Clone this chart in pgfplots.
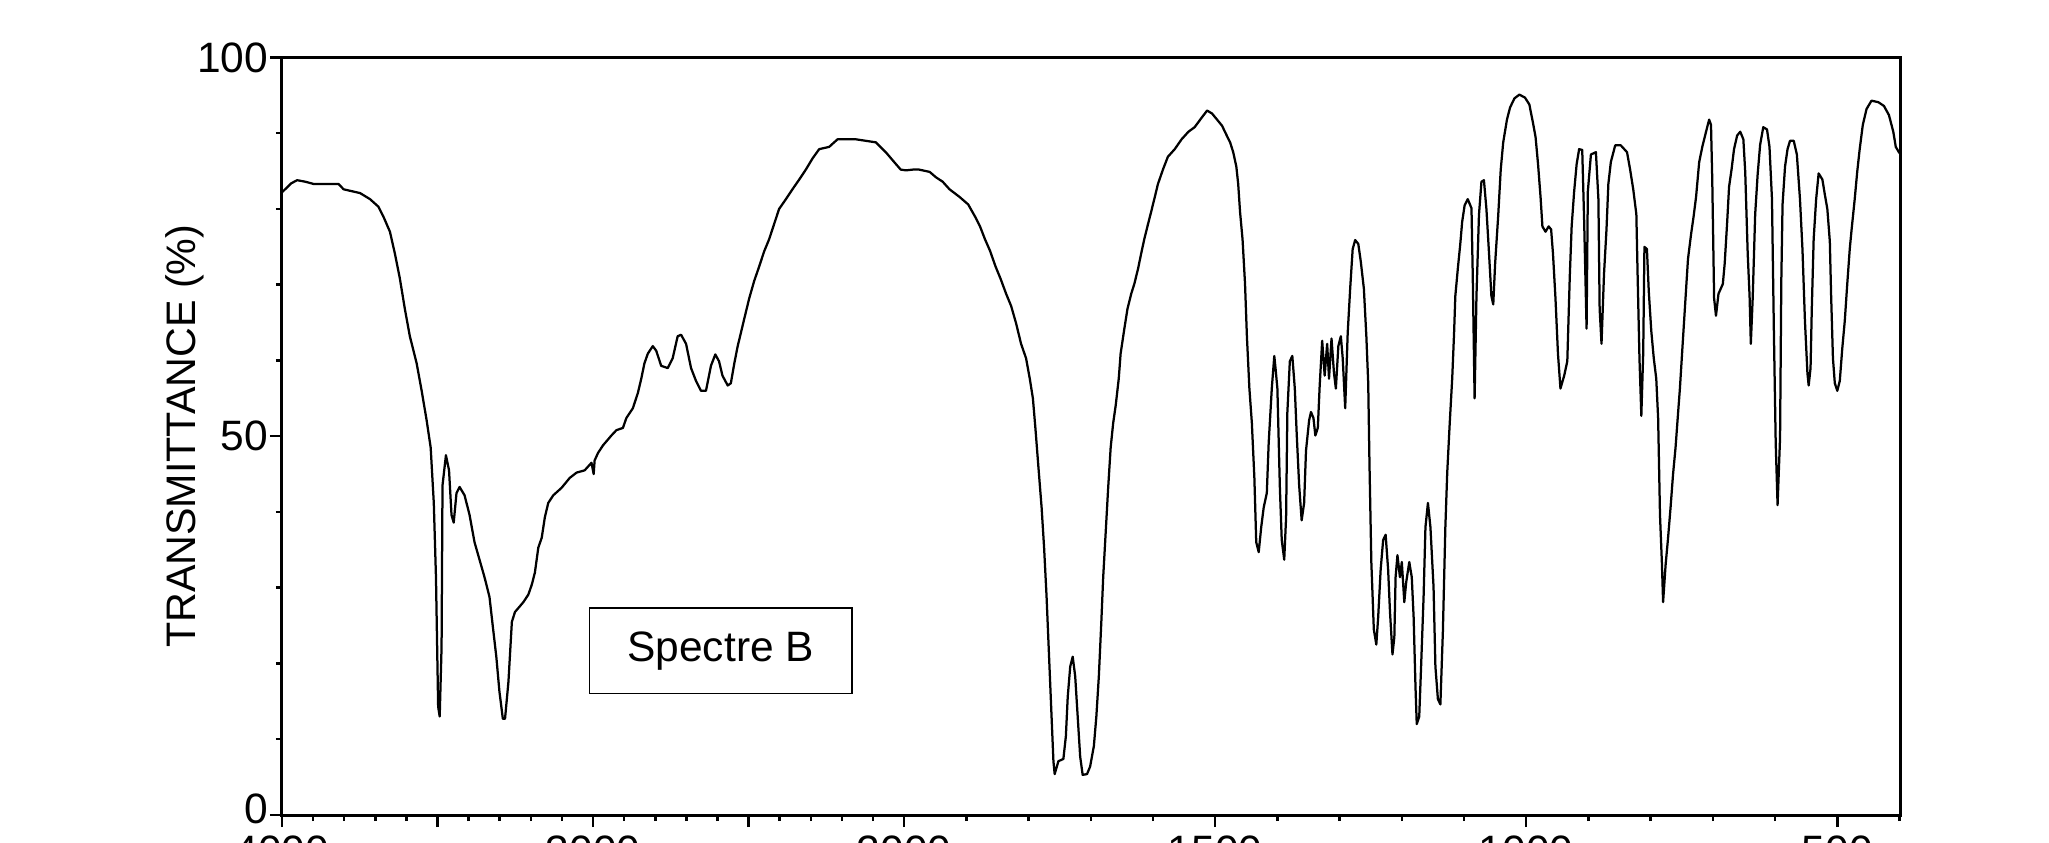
\documentclass[border=0pt]{standalone}
\usepackage{pgfplots}
\pgfplotsset{compat=1.18}
\usepackage{pgfplotstable}
\usepackage{fontspec}
\setmainfont{Liberation Sans}

\pgfplotstableread{
wn T
4000 82.2
3990 82.6
3970 83.4
3951 83.8
3925 83.6
3898 83.3
3818 83.3
3802 82.6
3749 82.1
3717 81.3
3690 80.3
3674 79.0
3653 77.0
3637 74.1
3621 70.8
3605 66.8
3589 63.2
3567 59.6
3551 56.0
3535 52.1
3522 48.5
3512 41.2
3505 31.4
3498 14.3
3493 13.0
3487 22.2
3484 43.5
3473 47.5
3463 45.5
3455 39.6
3448 38.6
3439 42.5
3429 43.3
3413 42.2
3397 39.6
3381 36.0
3365 33.7
3349 31.4
3333 28.8
3322 24.8
3311 20.9
3301 16.3
3290 12.7
3283 12.7
3272 17.6
3261 25.5
3251 26.8
3224 28.1
3208 29.1
3197 30.4
3187 32.0
3176 35.3
3165 36.6
3155 39.3
3144 41.2
3128 42.2
3101 43.2
3075 44.5
3053 45.2
3027 45.5
3005 46.5
2998 45.0
2995 46.8
2984 47.8
2968 48.8
2941 50.1
2925 50.8
2904 51.1
2893 52.4
2872 53.7
2856 55.7
2845 57.6
2835 59.6
2824 60.9
2808 61.9
2797 61.3
2781 59.3
2760 59.0
2744 60.3
2728 63.2
2717 63.4
2701 62.2
2685 59.0
2669 57.3
2653 56.0
2637 56.0
2621 59.3
2607 60.8
2595 59.9
2584 58.0
2567 56.7
2557 57.0
2546 59.6
2535 61.9
2525 63.6
2514 65.5
2498 68.2
2482 70.5
2466 72.4
2450 74.4
2434 76.0
2418 78.0
2402 80.0
2380 81.3
2359 82.6
2337 83.9
2316 85.2
2294 86.7
2273 87.9
2241 88.2
2214 89.2
2187 89.2
2155 89.2
2123 89.0
2091 88.8
2059 87.5
2032 86.2
2011 85.2
1997 85.1
1986 85.2
1976 85.2
1959 84.9
1949 84.2
1938 83.6
1927 82.6
1911 81.6
1897 80.6
1886 79.0
1878 77.7
1870 76.0
1862 74.5
1853 72.4
1845 70.8
1836 68.8
1828 67.2
1820 64.9
1812 62.2
1804 60.3
1798 57.6
1793 55.0
1789 51.1
1784 45.8
1779 40.6
1775 35.3
1771 28.8
1767 20.9
1763 13.0
1760 7.1
1758 5.4
1752 7.1
1744 7.4
1740 10.4
1737 15.6
1733 19.6
1729 20.9
1725 18.3
1721 13.0
1717 7.7
1713 5.3
1706 5.4
1701 6.4
1695 9.1
1691 13.0
1687 18.3
1683 25.5
1680 31.4
1676 37.3
1672 43.2
1668 48.5
1664 51.7
1660 54.0
1655 57.6
1652 60.9
1646 64.2
1641 66.8
1635 68.8
1630 70.1
1624 72.1
1619 74.1
1614 76.0
1608 78.0
1603 79.6
1597 81.6
1592 83.3
1584 85.2
1576 86.9
1565 87.9
1554 89.2
1543 90.2
1533 90.8
1524 91.8
1513 93.0
1505 92.6
1497 91.8
1489 91.0
1482 89.8
1476 88.8
1471 87.5
1466 85.6
1463 83.3
1460 79.6
1456 76.0
1452 70.1
1449 63.2
1445 56.3
1441 51.7
1437 44.5
1434 36.0
1430 34.7
1426 38.0
1422 40.6
1417 42.5
1414 49.1
1409 56.3
1405 60.6
1403 59.0
1400 56.3
1396 43.2
1393 36.3
1389 33.7
1386 39.3
1384 53.1
1380 59.9
1376 60.6
1372 56.3
1369 50.4
1365 43.5
1361 38.9
1357 41.2
1354 48.1
1349 52.1
1346 53.2
1342 52.4
1339 50.1
1335 51.1
1332 56.7
1328 62.6
1324 58.0
1320 62.2
1317 57.6
1313 62.9
1309 58.3
1306 56.3
1302 61.9
1298 63.2
1295 60.3
1291 53.7
1287 63.6
1283 69.5
1279 74.7
1275 75.9
1270 75.4
1266 73.1
1261 69.5
1257 63.2
1254 57.0
1252 46.5
1249 33.4
1245 24.5
1241 22.5
1238 26.1
1234 32.4
1230 36.3
1226 37.0
1222 32.4
1219 26.8
1215 21.2
1212 23.5
1210 31.4
1207 34.3
1203 31.4
1200 33.4
1196 28.1
1193 30.7
1188 33.4
1184 31.4
1181 26.1
1178 16.9
1176 12.0
1172 13.0
1169 19.6
1165 28.8
1162 38.0
1158 41.2
1154 38.0
1149 30.1
1146 19.6
1142 15.3
1138 14.6
1134 24.2
1130 38.0
1127 45.2
1123 51.7
1119 57.6
1116 63.6
1114 68.5
1110 72.1
1106 75.4
1103 78.3
1099 80.5
1094 81.3
1088 80.1
1086 71.4
1083 55.0
1080 68.5
1076 79.2
1072 83.6
1068 83.8
1064 80.0
1060 74.4
1056 68.5
1053 67.4
1050 72.8
1045 79.2
1041 85.2
1037 88.8
1031 91.8
1026 93.4
1019 94.6
1011 95.1
1002 94.7
995 93.8
989 91.3
985 89.5
981 85.9
977 81.6
974 77.7
969 77.0
964 77.7
960 77.3
957 74.1
953 68.2
949 60.9
945 56.3
939 58.0
934 59.9
930 71.1
927 77.7
923 82.3
919 85.9
915 87.9
910 87.8
907 78.7
903 64.2
901 82.3
896 87.2
888 87.5
884 81.3
882 66.8
879 62.2
875 71.4
871 77.3
868 83.3
864 86.2
857 88.4
848 88.4
838 87.5
833 85.2
828 82.6
823 79.3
821 71.4
818 60.3
815 52.7
812 60.9
810 75.0
806 74.7
803 69.1
799 63.9
795 60.3
791 57.6
788 52.4
785 39.6
782 33.4
780 28.1
776 33.0
772 36.6
768 40.6
764 45.0
760 48.5
756 53.0
753 56.3
749 61.6
743 69.5
740 73.4
735 76.7
731 79.0
727 81.6
722 86.2
717 88.2
711 90.2
706 91.8
703 91.1
701 83.9
698 68.2
695 65.9
691 68.8
684 70.1
681 72.8
677 78.3
674 82.9
670 85.2
666 87.9
661 89.7
656 90.2
651 89.2
648 84.9
644 74.1
641 68.5
639 62.2
636 68.2
632 79.3
628 84.6
624 88.5
619 90.8
613 90.5
609 88.2
605 81.3
602 64.2
599 49.1
596 40.9
592 49.8
590 70.5
588 80.6
584 85.6
580 87.9
576 89.0
570 89.0
565 87.2
560 81.3
556 74.7
552 65.2
548 58.3
546 56.7
543 59.0
541 66.8
538 76.0
534 81.3
530 84.7
524 83.9
520 81.9
516 80.0
512 75.7
510 68.8
507 60.3
504 57.0
500 56.0
496 57.3
492 61.6
488 65.2
484 70.1
480 74.7
477 77.3
472 81.3
468 84.9
464 87.9
459 91.1
453 93.2
445 94.3
434 94.1
425 93.6
417 92.4
410 90.2
406 88.2
401 87.5
398 87.2
}\spectrum

\begin{document}
\begin{tikzpicture}
\begin{axis}[
  at={(0,0)}, anchor=south west,
  width=647.5pt, height=303pt, scale only axis,
  xmin=0, xmax=5204, ymin=0, ymax=100,
  axis line style={line width=1.2pt, black},
  tick pos=left, tick align=outside,
  xtick={0,500,1000,1500,2000,3000,4000,5000},
  xticklabels={4000,,3000,,2000,1500,1000,500},
  minor xtick={100,200,300,400,600,700,800,900,1100,1200,1300,1400,1600,1700,1800,1900,2200,2400,2600,2800,3200,3400,3600,3800,4200,4400,4600,4800,5200},
  ytick={0,50,100}, yticklabels={\raisebox{5pt}{0},50,100},
  minor ytick={10,20,30,40,60,70,80,90},
  major tick length=4.8pt, minor tick length=2.4pt,
  every tick/.style={line width=1pt, black},
  tick label style={font=\fontsize{17}{20}\selectfont, inner sep=0pt},
  xticklabel style={anchor=north, yshift=-3.4pt},
  yticklabel style={anchor=east, xshift=-0.5pt},
  ylabel={TRANSMITTANCE (\%)},
  ylabel style={at={(axis description cs:-0.0599,0.5)}, anchor=center, font=\fontsize{16.5}{20}\selectfont},
]
\addplot[black, line width=0.9pt, mark=none, line join=round] table[x expr={\thisrow{wn}>=2000 ? 4000-\thisrow{wn} : 6000-2*\thisrow{wn}}, y=T] {\spectrum};
\node[draw, line width=0.6pt, minimum width=105pt, minimum height=34.2pt, inner sep=0pt, font=\fontsize{17}{20}\selectfont] at (rel axis cs:0.271,0.217) {Spectre B};
\end{axis}
\pgfresetboundingbox
\useasboundingbox (-112.8pt,-11.2pt) rectangle (706.8pt,326pt);
\end{tikzpicture}
\end{document}
